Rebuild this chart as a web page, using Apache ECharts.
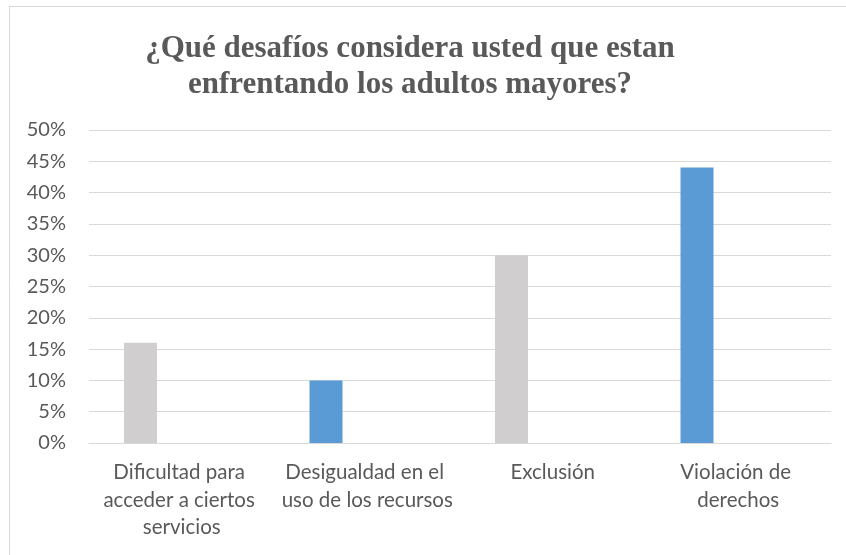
<!DOCTYPE html>
<html>
<head>
<meta charset="utf-8">
<script src="https://cdn.jsdelivr.net/npm/echarts@6/dist/echarts.min.js"></script>
<style>
  html, body { margin: 0; padding: 0; background: #fff; }
  #grafico { width: 846px; height: 555px; }
</style>
</head>
<body>
<div id="grafico"></div>
<script>
var categorias = [
  "Dificultad para acceder a ciertos servicios",
  "Desigualdad en el uso de los recursos",
  "Exclusión",
  "Violación de derechos"
];
var valores = [16, 10, 30, 44];
var colores = ["#D0CECE", "#5B9BD5", "#D0CECE", "#5B9BD5"];
var vacio = [null, null, null, null];
var ticksY = [0, 5, 10, 15, 20, 25, 30, 35, 40, 45, 50];

var chart = echarts.init(document.getElementById("grafico"));
chart.setOption({
  animation: false,
  title: {
    text: "¿Qué desafíos considera usted que estan\nenfrentando los adultos mayores?",
    left: 405,
    top: 26,
    textAlign: "center",
    textStyle: {
      fontFamily: "Liberation Serif",
      fontWeight: "bold",
      fontSize: 31,
      lineHeight: 36,
      color: "#595959"
    }
  },
  graphic: [
    { type: "line", shape: { x1: 9, y1: 6.5, x2: 846, y2: 6.5 }, style: { stroke: "#d9d9d9", lineWidth: 1 } },
    { type: "line", shape: { x1: 9.5, y1: 6, x2: 9.5, y2: 555 }, style: { stroke: "#d9d9d9", lineWidth: 1 } }
  ],
  grid: { left: 89, right: 15, top: 130, bottom: 112 },
  xAxis: {
    type: "category",
    data: categorias,
    axisLine: { lineStyle: { color: "#d9d9d9" } },
    axisTick: { show: false },
    axisLabel: {
      interval: 0,
      margin: 16,
      width: 178,
      overflow: "break",
      fontFamily: "Lato",
      fontSize: 20.5,
      lineHeight: 27.5,
      color: "#595959"
    }
  },
  yAxis: {
    type: "value",
    min: ticksY[0],
    max: ticksY[ticksY.length - 1],
    interval: 5,
    axisLine: { show: false },
    axisTick: { show: false },
    splitLine: { lineStyle: { color: "#d9d9d9" } },
    axisLabel: {
      margin: 23,
      fontFamily: "Lato",
      fontSize: 20,
      color: "#595959",
      formatter: "{value}%"
    }
  },
  series: [
    {
      type: "bar",
      barWidth: 33,
      barGap: "150%",
      data: valores.map(function (v, i) {
        return { value: v, itemStyle: { color: colores[i] } };
      })
    },
    {
      type: "bar",
      barWidth: 33,
      data: vacio
    }
  ]
});
</script>
</body>
</html>
